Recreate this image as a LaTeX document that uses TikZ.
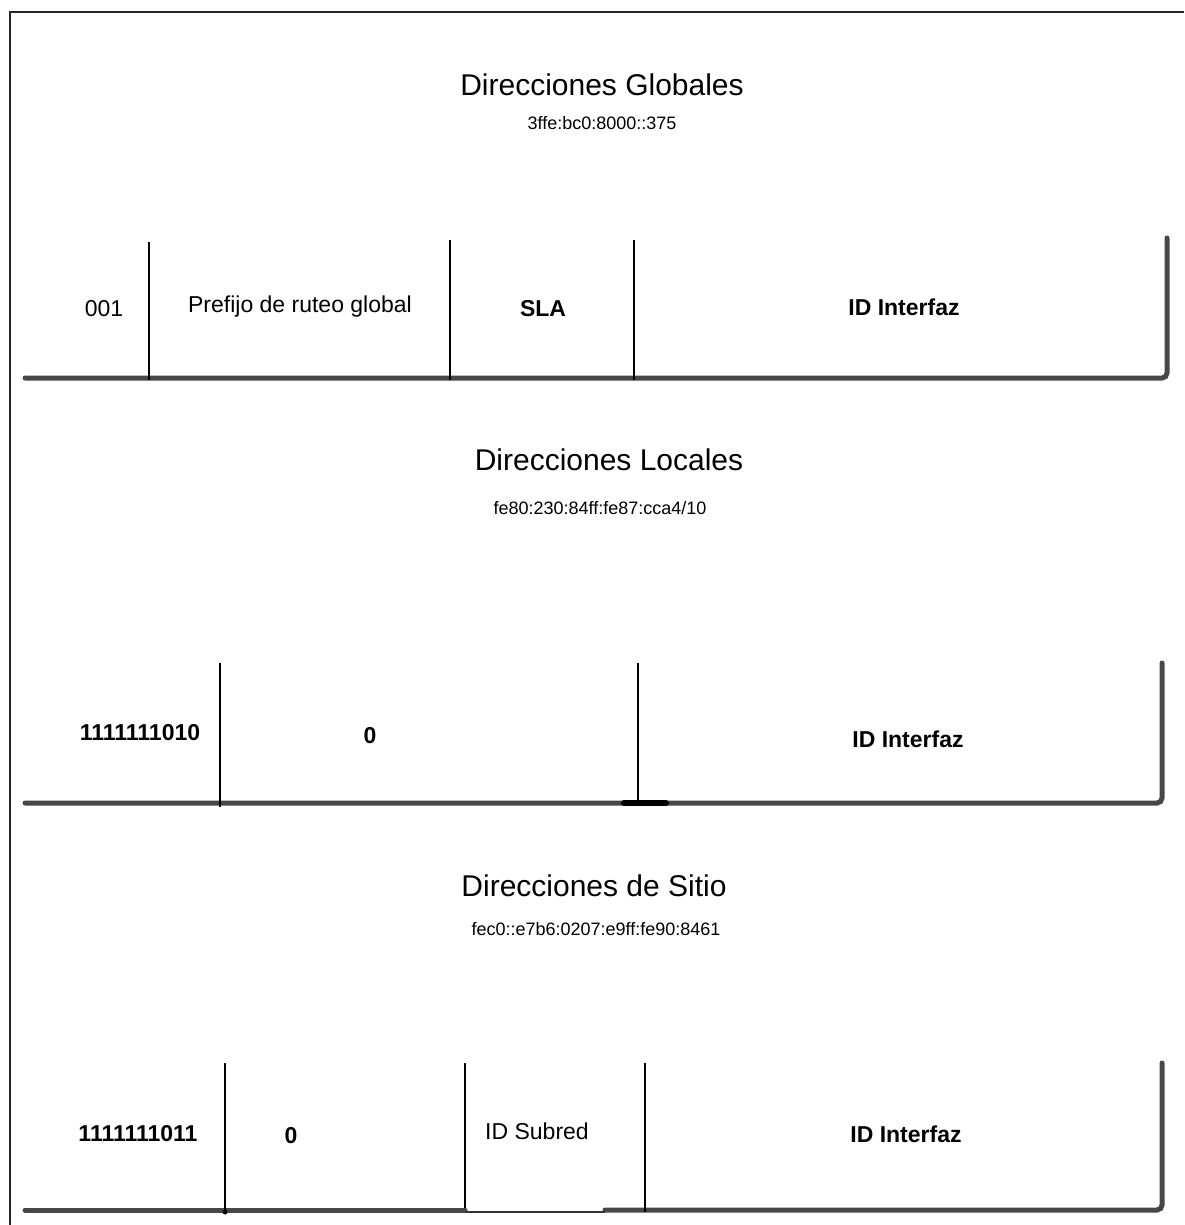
\documentclass[tikz,border=0pt]{standalone}
\usepackage{fontspec}
\setmainfont{Liberation Sans}
\begin{document}
\begin{tikzpicture}[x=1pt,y=-1pt,
  frame/.style={line width=2pt, draw=black!85},
  bar/.style={line width=5pt, draw=black!72, rounded corners=5pt, line cap=round},
  thinbar/.style={line width=1.6pt, draw=black!80},
  divider/.style={line width=1.5pt, draw=black},
  heavydivider/.style={line width=2.6pt, draw=black},
  foot/.style={line width=6pt, draw=black, line cap=round},
  title/.style={font=\fontsize{30}{36}\selectfont, inner sep=0pt},
  addr/.style={font=\fontsize{18}{22}\selectfont, inner sep=0pt},
  field/.style={font=\fontsize{23}{28}\selectfont, inner sep=0pt},
  bfield/.style={font=\fontsize{23}{28}\selectfont\bfseries, inner sep=0pt}]
\useasboundingbox (0,0) rectangle (1184,1225);

% outer frame (top and left edges)
\draw[frame] (10,1225) -- (10,12) -- (1184,12);

% ---------- global addresses ----------
\node[title] (gtitle) at (602,85) {Direcciones Globales};
\node[addr]  (gaddr)  at (602,123) {3ffe:bc0:8000::375};
\draw[bar] (25,378) -- (1167,378) -- (1167,238);
\draw[divider] (149,242) -- (149,380);
\draw[divider] (450,240) -- (450,380);
\draw[divider] (634,240) -- (634,380);
\node[field]  (g1) at (104,309) {001};
\node[field]  (g2) at (300,307) {Prefijo de ruteo global};
\node[bfield] (g3) at (543,309) {SLA};
\node[bfield] (g4) at (904,307) {ID Interfaz};

% ---------- link-local addresses ----------
\node[title] (ltitle) at (609,460) {Direcciones Locales};
\node[addr]  (laddr)  at (600,508) {fe80:230:84ff:fe87:cca4/10};
\draw[bar] (25,803) -- (1162,803) -- (1162,663);
\draw[heavydivider] (220,663) -- (220,807);
\draw[heavydivider] (638,663) -- (638,801);
\draw[foot] (624,803) -- (666,803);
\node[bfield] (l1) at (140,733) {1111111010};
\node[bfield] (l2) at (370,736) {0};
\node[bfield] (l3) at (908,739) {ID Interfaz};

% ---------- site-local addresses ----------
\node[title] (stitle) at (594,886) {Direcciones de Sitio};
\node[addr]  (saddr)  at (596,929) {fec0::e7b6:0207:e9ff:fe90:8461};
\draw[bar] (25,1210) -- (465,1210);
\draw[bar] (605,1210) -- (1162,1210) -- (1162,1063);
\draw[thinbar] (465,1212) -- (605,1212);
\draw[divider] (225,1063) -- (225,1212);
\fill (225,1212) circle (2.5pt);
\draw[heavydivider] (465,1063) -- (465,1208);
\draw[divider] (645,1063) -- (645,1212);
\node[bfield] (s1) at (138,1134) {1111111011};
\node[bfield] (s2) at (291,1136) {0};
\node[field]  (s3) at (537,1131) {ID Subred};
\node[bfield] (s4) at (906,1134) {ID Interfaz};
\end{tikzpicture}
\end{document}
